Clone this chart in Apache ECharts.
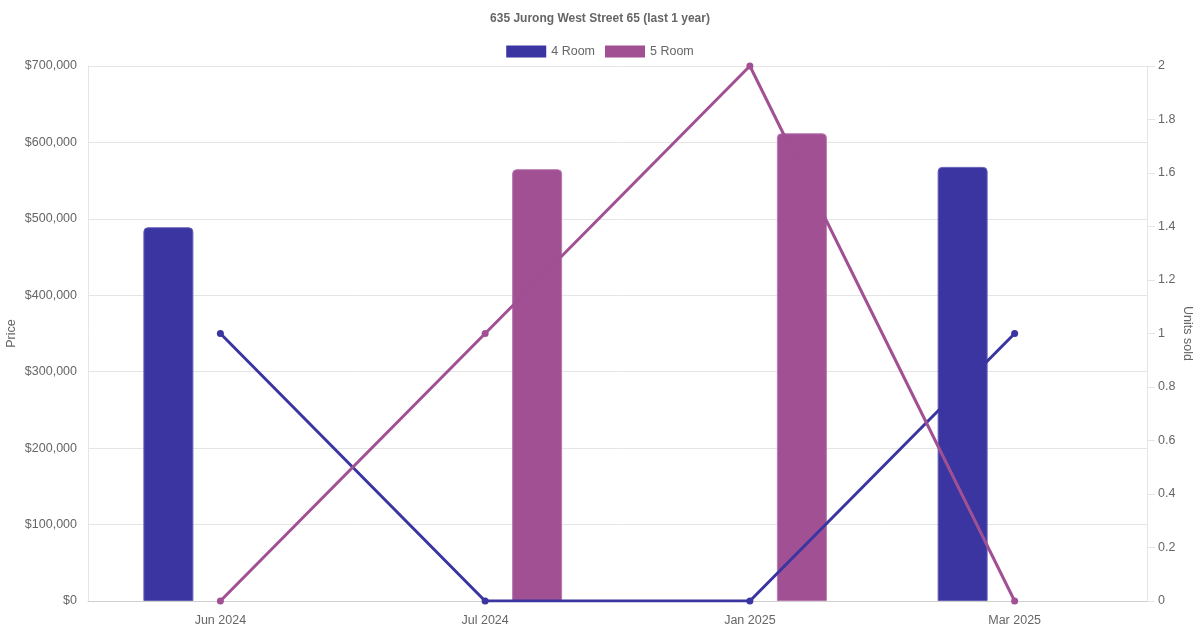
<!DOCTYPE html>
<html>
<head>
<meta charset="utf-8">
<title>635 Jurong West Street 65</title>
<script src="https://cdn.jsdelivr.net/npm/echarts@6/dist/echarts.min.js"></script>
<style>
  html, body { margin: 0; padding: 0; background: #fff; }
  #chart { width: 1200px; height: 630px; }
</style>
</head>
<body>
<div id="chart"></div>
<script>
var months = ['Jun 2024', 'Jul 2024', 'Jan 2025', 'Mar 2025'];
var price4Room = [489000, null, null, 568000];
var price5Room = [null, 565000, 612000, null];
var units4Room = [1, 0, 0, 1];
var units5Room = [0, 1, 2, 0];

var color4 = '#3a35a0';
var color5 = '#a05093';
var gridColor = '#e5e5e5';
var textColor = '#666';
var font = '"Liberation Sans", Arial, Helvetica, sans-serif';

function money(v){
    return '$' + Number(v).toLocaleString('en-US');
}

var myChart = echarts.init(document.getElementById('chart'));

myChart.setOption({
    animation: false,
    textStyle: { fontFamily: font },
    title: {
        text: '635 Jurong West Street 65 (last 1 year)',
        left: 'center',
        top: 8,
        textStyle: { fontSize: 12, fontWeight: 'bold', color: textColor, fontFamily: font }
    },
    legend: {
        top: 40,
        left: 'center',
        itemWidth: 40,
        itemHeight: 12,
        itemGap: 10,
        icon: 'rect',
        itemStyle: { borderWidth: 0 },
        data: ['4 Room', '5 Room'],
        textStyle: { fontSize: 12.5, color: textColor, fontFamily: font }
    },
    grid: { left: 88, right: 53, top: 66, bottom: 29, containLabel: false, outerBoundsMode: 'none' },
    xAxis: {
        type: 'category',
        data: months,
        boundaryGap: true,
        axisLine: { show: true, lineStyle: { color: '#cfcfcf' } },
        axisTick: { show: false },
        axisLabel: { color: textColor, fontSize: 12.5, margin: 13, fontFamily: font },
        splitLine: { show: false }
    },
    yAxis: [
        {
            type: 'value',
            name: 'Price',
            nameLocation: 'middle',
            nameGap: 70,
            nameMoveOverlap: false,
            nameTextStyle: { color: textColor, fontSize: 12.5, fontFamily: font },
            min: 0,
            max: 700000,
            interval: 100000,
            axisLine: { show: true, lineStyle: { color: gridColor } },
            axisTick: { show: false },
            axisLabel: { color: textColor, fontSize: 12.5, margin: 11, padding: [4, 0, 0, 0], formatter: money, fontFamily: font },
            splitLine: { show: true, lineStyle: { color: gridColor } }
        },
        {
            type: 'value',
            name: 'Units sold',
            nameLocation: 'middle',
            nameRotate: -90,
            nameGap: 34,
            nameMoveOverlap: false,
            nameTextStyle: { color: textColor, fontSize: 12.5, fontFamily: font },
            min: 0,
            max: 2,
            interval: 0.2,
            position: 'right',
            axisLine: { show: true, lineStyle: { color: gridColor } },
            axisTick: { show: true, length: 8, lineStyle: { color: gridColor } },
            axisLabel: { color: textColor, fontSize: 12.5, margin: 11, padding: [4, 0, 0, 0], fontFamily: font },
            splitLine: { show: false }
        }
    ],
    series: [
        {
            name: '4 Room',
            type: 'bar',
            yAxisIndex: 0,
            barWidth: 50,
            barGap: '108%',
            itemStyle: { color: color4, borderColor: '#6661b8', borderWidth: 1, borderRadius: [4, 4, 0, 0] },
            data: price4Room,
            z: 2
        },
        {
            name: '5 Room',
            type: 'bar',
            yAxisIndex: 0,
            barWidth: 50,
            barGap: '108%',
            itemStyle: { color: color5, borderColor: '#b97aae', borderWidth: 1, borderRadius: [4, 4, 0, 0] },
            data: price5Room,
            z: 2
        },
        {
            name: '4 Room',
            type: 'line',
            yAxisIndex: 1,
            symbol: 'circle',
            symbolSize: 7,
            lineStyle: { color: color4, width: 3 },
            itemStyle: { color: color4 },
            data: units4Room,
            z: 3
        },
        {
            name: '5 Room',
            type: 'line',
            yAxisIndex: 1,
            symbol: 'circle',
            symbolSize: 7,
            lineStyle: { color: color5, width: 3 },
            itemStyle: { color: color5 },
            data: units5Room,
            z: 4
        }
    ]
});
</script>
</body>
</html>
